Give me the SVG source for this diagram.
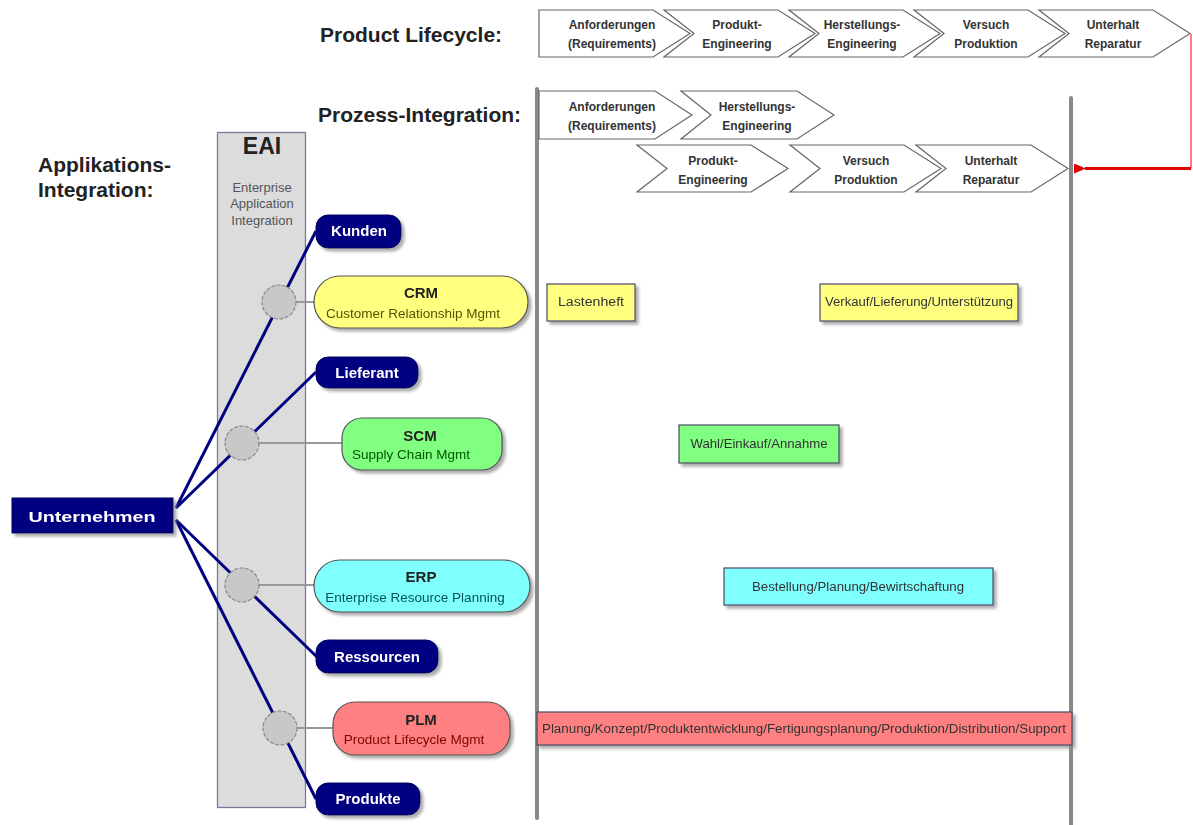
<svg xmlns="http://www.w3.org/2000/svg" width="1193" height="825" viewBox="0 0 1193 825">
<defs>
<style>
.hdr{font-family:"Liberation Sans",Arial,sans-serif;font-size:21px;font-weight:bold;fill:#222}
.chev{fill:#fff;stroke:#666;stroke-width:1.2}
.ct{font-family:"Liberation Sans",Arial,sans-serif;font-size:12px;font-weight:bold;fill:#333;text-anchor:middle}
.navy{fill:#000080;stroke:#000060;stroke-width:1}
.nt{font-family:"Liberation Sans",Arial,sans-serif;font-size:15px;font-weight:bold;fill:#fff;text-anchor:middle}
.app{stroke:#555;stroke-width:1.2}
.at{font-family:"Liberation Sans",Arial,sans-serif;font-size:15px;font-weight:bold;fill:#222;text-anchor:middle}
.as{font-family:"Liberation Sans",Arial,sans-serif;font-size:13.5px;text-anchor:middle}
.box{stroke:#4a4a6a;stroke-width:1.2}
.bt{font-family:"Liberation Sans",Arial,sans-serif;font-size:12px;fill:#333;text-anchor:middle}
.hub{fill:#c8c8c8;stroke:#888;stroke-width:1.2;stroke-dasharray:4 1.5}
.blue{stroke:#000080;stroke-width:3;fill:none}
.grey{stroke:#999;stroke-width:2;fill:none}
.rail{stroke:#888;stroke-width:4;stroke-linecap:round}
.eai{font-family:"Liberation Sans",Arial,sans-serif;font-size:13px;fill:#555;text-anchor:middle}
</style>
<filter id="sh" x="-10%" y="-20%" width="130%" height="160%">
<feDropShadow dx="3" dy="3" stdDeviation="1.5" flood-color="#888" flood-opacity="0.7"/>
</filter>
<marker id="ah" markerWidth="12" markerHeight="10" refX="1" refY="5" orient="auto" markerUnits="userSpaceOnUse">
<path d="M0,5 L12,0 L12,10 Z" fill="#e00000"/>
</marker>
</defs>

<rect width="1193" height="825" fill="#fff"/>

<!-- headers -->
<text class="hdr" x="320" y="42">Product Lifecycle:</text>
<text class="hdr" x="318" y="122">Prozess-Integration:</text>
<text class="hdr" x="38" y="172">Applikations-</text>
<text class="hdr" x="38" y="197">Integration:</text>

<!-- EAI column -->
<g id="eai">
<rect x="217.5" y="132.5" width="88" height="675" fill="#dcdcdc" stroke="#7a7aa0" stroke-width="1.3"/>
<text x="262" y="154" font-family="Liberation Sans, Arial, sans-serif" font-size="23" font-weight="bold" fill="#222" text-anchor="middle">EAI</text>
<text class="eai" x="262" y="192">Enterprise</text>
<text class="eai" x="262" y="208">Application</text>
<text class="eai" x="262" y="225">Integration</text>
</g>

<!-- rails -->
<line class="rail" x1="537" y1="89" x2="537" y2="818"/>
<line class="rail" x1="1071" y1="98" x2="1071" y2="830"/>

<!-- Product lifecycle chevrons -->
<g id="lifecycle">
<g id="lc-anforderungen"><polygon class="chev" points="539,10 653,10 690,33.5 653,57 539,57"/>
<text class="ct" x="612" y="29">Anforderungen</text><text class="ct" x="612" y="48">(Requirements)</text></g>
<g id="lc-produkt"><polygon class="chev" points="664,10 778,10 815,33.5 778,57 664,57 694,33.5"/>
<text class="ct" x="737" y="29">Produkt-</text><text class="ct" x="737" y="48">Engineering</text></g>
<g id="lc-herstellung"><polygon class="chev" points="789,10 903,10 940,33.5 903,57 789,57 819,33.5"/>
<text class="ct" x="862" y="29">Herstellungs-</text><text class="ct" x="862" y="48">Engineering</text></g>
<g id="lc-versuch"><polygon class="chev" points="914,10 1028,10 1065,33.5 1028,57 914,57 944,33.5"/>
<text class="ct" x="986" y="29">Versuch</text><text class="ct" x="986" y="48">Produktion</text></g>
<g id="lc-unterhalt"><polygon class="chev" points="1039,10 1153,10 1190,33.5 1153,57 1039,57 1069,33.5"/>
<text class="ct" x="1113" y="29">Unterhalt</text><text class="ct" x="1113" y="48">Reparatur</text></g>
</g>

<!-- Process integration chevrons -->
<g id="process">
<g id="pi-anforderungen"><polygon class="chev" points="539,91 655,91 692,115 655,139 539,139"/>
<text class="ct" x="612" y="111">Anforderungen</text><text class="ct" x="612" y="130">(Requirements)</text></g>
<g id="pi-herstellung"><polygon class="chev" points="681,91 797,91 834,115 797,139 681,139 711,115"/>
<text class="ct" x="757" y="111">Herstellungs-</text><text class="ct" x="757" y="130">Engineering</text></g>
<g id="pi-produkt"><polygon class="chev" points="637,145 751,145 788,168.5 751,192 637,192 667,168.5"/>
<text class="ct" x="713" y="165">Produkt-</text><text class="ct" x="713" y="184">Engineering</text></g>
<g id="pi-versuch"><polygon class="chev" points="790,145 904,145 941,168.5 904,192 790,192 820,168.5"/>
<text class="ct" x="866" y="165">Versuch</text><text class="ct" x="866" y="184">Produktion</text></g>
<g id="pi-unterhalt"><polygon class="chev" points="916,145 1031,145 1068,168.5 1031,192 916,192 946,168.5"/>
<text class="ct" x="991" y="165">Unterhalt</text><text class="ct" x="991" y="184">Reparatur</text></g>
</g>

<!-- connectors -->
<g id="connectors">
<line class="blue" x1="176" y1="508" x2="316" y2="231"/>
<line class="blue" x1="176" y1="508" x2="316" y2="372"/>
<line class="blue" x1="176" y1="520" x2="317" y2="657"/>
<line class="blue" x1="176" y1="520" x2="316" y2="799"/>
<line class="grey" x1="296" y1="302" x2="315" y2="302"/>
<line class="grey" x1="259" y1="443" x2="343" y2="443"/>
<line class="grey" x1="259" y1="585" x2="315" y2="585"/>
<line class="grey" x1="297" y1="728" x2="334" y2="728"/>
<line x1="1191" y1="34" x2="1191" y2="168.5" stroke="#ff5050" stroke-width="1.5"/>
<line x1="1191" y1="168.5" x2="1085" y2="168.5" stroke="#e00000" stroke-width="3" marker-end="url(#ah)"/>
</g>

<!-- hubs -->
<g id="hubs">
<circle class="hub" cx="279" cy="302" r="17"/>
<circle class="hub" cx="242" cy="443" r="17"/>
<circle class="hub" cx="242" cy="585" r="17"/>
<circle class="hub" cx="280" cy="728" r="17"/>
</g>

<!-- Unternehmen -->
<g id="unternehmen" filter="url(#sh)">
<rect class="navy" x="12" y="498" width="161" height="35"/>
<text class="nt" x="92" y="522" font-size="18" textLength="127" lengthAdjust="spacingAndGlyphs">Unternehmen</text>
</g>

<!-- navy nodes -->
<g id="kunden" filter="url(#sh)"><rect class="navy" x="316" y="215" width="85" height="33" rx="12"/><text class="nt" x="359" y="236">Kunden</text></g>
<g id="lieferant" filter="url(#sh)"><rect class="navy" x="316" y="357" width="102" height="31" rx="12"/><text class="nt" x="367" y="378">Lieferant</text></g>
<g id="ressourcen" filter="url(#sh)"><rect class="navy" x="316" y="640" width="122" height="33" rx="12"/><text class="nt" x="377" y="662">Ressourcen</text></g>
<g id="produkte" filter="url(#sh)"><rect class="navy" x="316" y="783" width="104" height="32" rx="12"/><text class="nt" x="368" y="804">Produkte</text></g>

<!-- applications -->
<g id="crm" filter="url(#sh)"><rect class="app" x="314" y="276" width="214" height="52" rx="26" fill="#ffff80"/>
<text class="at" x="421" y="298">CRM</text><text class="as" x="413" y="318" fill="#555500">Customer Relationship Mgmt</text></g>
<g id="scm" filter="url(#sh)"><rect class="app" x="342" y="418" width="160" height="52" rx="20" fill="#80ff80"/>
<text class="at" x="420" y="441">SCM</text><text class="as" x="411" y="459" fill="#005500">Supply Chain Mgmt</text></g>
<g id="erp" filter="url(#sh)"><rect class="app" x="314" y="560" width="216" height="52" rx="26" fill="#80ffff"/>
<text class="at" x="421" y="582">ERP</text><text class="as" x="415" y="602" fill="#005555">Enterprise Resource Planning</text></g>
<g id="plm" filter="url(#sh)"><rect class="app" x="333" y="702" width="177" height="53" rx="22" fill="#ff8080"/>
<text class="at" x="421" y="725">PLM</text><text class="as" x="414" y="744" fill="#800000">Product Lifecycle Mgmt</text></g>

<!-- process boxes -->
<g id="lastenheft" filter="url(#sh)"><rect class="box" x="547" y="284" width="88" height="37" fill="#ffff80"/>
<text class="bt" x="591" y="306" textLength="66" lengthAdjust="spacingAndGlyphs">Lastenheft</text></g>
<g id="verkauf" filter="url(#sh)"><rect class="box" x="820" y="284" width="198" height="37" fill="#ffff80"/>
<text class="bt" x="919" y="306" textLength="188" lengthAdjust="spacingAndGlyphs">Verkauf/Lieferung/Unterstützung</text></g>
<g id="wahl" filter="url(#sh)"><rect class="box" x="679" y="425" width="160" height="38" fill="#80ff80"/>
<text class="bt" x="759" y="448" textLength="137" lengthAdjust="spacingAndGlyphs">Wahl/Einkauf/Annahme</text></g>
<g id="bestellung" filter="url(#sh)"><rect class="box" x="724" y="568" width="269" height="37" fill="#80ffff"/>
<text class="bt" x="858" y="591" textLength="212" lengthAdjust="spacingAndGlyphs">Bestellung/Planung/Bewirtschaftung</text></g>
<g id="planung" filter="url(#sh)"><rect class="box" x="537" y="712" width="535" height="33" fill="#ff8080" stroke="#6a3a7a"/>
<text class="bt" x="804" y="733" textLength="524" lengthAdjust="spacingAndGlyphs">Planung/Konzept/Produktentwicklung/Fertigungsplanung/Produktion/Distribution/Support</text></g>
</svg>
